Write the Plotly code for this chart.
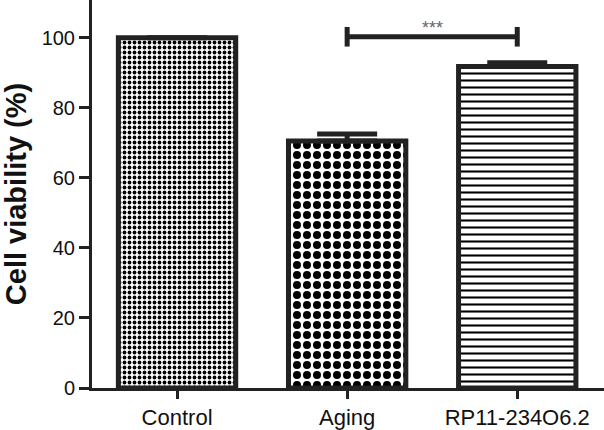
import plotly.graph_objects as go

categories = ["Control", "Aging", "RP11-234O6.2"]
viability = [100.0, 70.5, 91.8]
errors_up = [0.0, 2.0, 1.1]
y_ticks = [0, 20, 40, 60, 80, 100]
sig_pair = ["Aging", "RP11-234O6.2"]
sig_level = 100.3
sig_label = "***"

fig = go.Figure()
fig.add_trace(go.Bar(
    x=categories, y=viability, width=0.69,
    marker=dict(
        color="white",
        line=dict(color="#222222", width=5),
        pattern=dict(shape=[".", ".", "-"],
                     fgcolor="black", bgcolor="white",
                     size=[5, 10, 7], solidity=[0.45, 0.5, 0.3], fillmode="replace"),
    ),
    error_y=dict(type="data", symmetric=False, array=errors_up,
                 arrayminus=[0, 0, 0], thickness=5, width=30, color="#222222"),
    showlegend=False,
))

h = 2.8
fig.add_trace(go.Scatter(
    x=[sig_pair[0], sig_pair[0], None, sig_pair[0], sig_pair[1], None, sig_pair[1], sig_pair[1]],
    y=[sig_level - h, sig_level + h, None, sig_level, sig_level, None, sig_level - h, sig_level + h],
    mode="lines", line=dict(color="#222222", width=5), showlegend=False, hoverinfo="skip",
))
fig.add_annotation(x=1.5, y=sig_level - 0.9, text=sig_label, showarrow=False,
                   yanchor="bottom", font=dict(size=18, color="#666666"))

fig.update_layout(
    width=604, height=430,
    margin=dict(l=92, r=0, t=0, b=40),
    plot_bgcolor="white", paper_bgcolor="white",
    font=dict(family="Liberation Sans, Arial, sans-serif", color="#111111"),
)
fig.update_xaxes(
    range=[-0.5, 2.51], showline=True, linecolor="#222222", linewidth=3,
    ticks="outside", ticklen=8, tickwidth=3, tickcolor="#222222",
    tickfont=dict(size=22), showgrid=False, zeroline=False,
)
fig.update_yaxes(
    range=[0, 110.8], tickvals=y_ticks, showline=True, linecolor="#222222", linewidth=3,
    ticks="outside", ticklen=10, tickwidth=3, tickcolor="#222222",
    tickfont=dict(size=20), showgrid=False, zeroline=False,
    title=dict(text="<b>Cell viability (%)</b>", font=dict(size=29), standoff=10),
)
fig.write_html("out.html", config={"displayModeBar": False},
               post_script="document.body.style.margin='0';")
